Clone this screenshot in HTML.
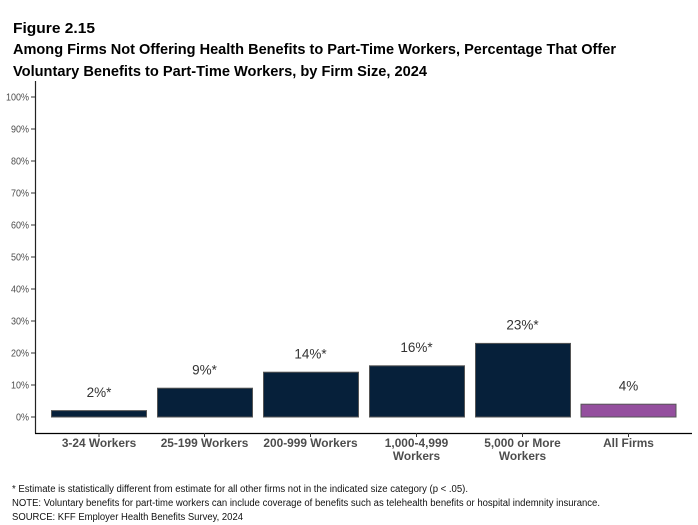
<!DOCTYPE html>
<html><head><meta charset="utf-8"><style>
html,body{margin:0;padding:0;background:#fff;}
svg{display:block;font-family:"Liberation Sans",Arial,sans-serif;}
</style></head><body>
<svg width="698" height="525" viewBox="0 0 698 525" xmlns="http://www.w3.org/2000/svg">
<rect width="698" height="525" fill="#fff"/>
<!-- Title -->
<text x="13" y="33" font-size="15" font-weight="bold" fill="#000" textLength="82" lengthAdjust="spacingAndGlyphs">Figure 2.15</text>
<text x="13" y="54" font-size="15" font-weight="bold" fill="#000" textLength="603" lengthAdjust="spacingAndGlyphs">Among Firms Not Offering Health Benefits to Part-Time Workers, Percentage That Offer</text>
<text x="13" y="76" font-size="15" font-weight="bold" fill="#000" textLength="414" lengthAdjust="spacingAndGlyphs">Voluntary Benefits to Part-Time Workers, by Firm Size, 2024</text>

<!-- Y axis -->
<g font-size="10" fill="#4d4d4d" text-anchor="end">
<text x="29" y="420.5" transform="translate(29,0) scale(0.9,1) translate(-29,0)">0%</text>
<text x="29" y="388.5" transform="translate(29,0) scale(0.9,1) translate(-29,0)">10%</text>
<text x="29" y="356.5" transform="translate(29,0) scale(0.9,1) translate(-29,0)">20%</text>
<text x="29" y="324.5" transform="translate(29,0) scale(0.9,1) translate(-29,0)">30%</text>
<text x="29" y="292.5" transform="translate(29,0) scale(0.9,1) translate(-29,0)">40%</text>
<text x="29" y="260.5" transform="translate(29,0) scale(0.9,1) translate(-29,0)">50%</text>
<text x="29" y="228.5" transform="translate(29,0) scale(0.9,1) translate(-29,0)">60%</text>
<text x="29" y="196.5" transform="translate(29,0) scale(0.9,1) translate(-29,0)">70%</text>
<text x="29" y="164.5" transform="translate(29,0) scale(0.9,1) translate(-29,0)">80%</text>
<text x="29" y="132.5" transform="translate(29,0) scale(0.9,1) translate(-29,0)">90%</text>
<text x="29" y="100.5" transform="translate(29,0) scale(0.9,1) translate(-29,0)">100%</text>
</g>
<g stroke="#333" stroke-width="1">
<line x1="31" y1="417" x2="35" y2="417"/>
<line x1="31" y1="385" x2="35" y2="385"/>
<line x1="31" y1="353" x2="35" y2="353"/>
<line x1="31" y1="321" x2="35" y2="321"/>
<line x1="31" y1="289" x2="35" y2="289"/>
<line x1="31" y1="257" x2="35" y2="257"/>
<line x1="31" y1="225" x2="35" y2="225"/>
<line x1="31" y1="193" x2="35" y2="193"/>
<line x1="31" y1="161" x2="35" y2="161"/>
<line x1="31" y1="129" x2="35" y2="129"/>
<line x1="31" y1="97" x2="35" y2="97"/>
</g>
<line x1="35.5" y1="81" x2="35.5" y2="433.5" stroke="#222" stroke-width="1.2"/>
<line x1="35" y1="433.5" x2="692" y2="433.5" stroke="#000" stroke-width="1.2"/>
<g stroke="#333" stroke-width="1">
<line x1="99" y1="433" x2="99" y2="437"/>
<line x1="204.5" y1="433" x2="204.5" y2="437"/>
<line x1="310.5" y1="433" x2="310.5" y2="437"/>
<line x1="416.5" y1="433" x2="416.5" y2="437"/>
<line x1="522.5" y1="433" x2="522.5" y2="437"/>
<line x1="628.5" y1="433" x2="628.5" y2="437"/>
</g>

<!-- Bars -->
<g stroke="#555" stroke-width="1">
<rect x="51.5" y="410.6" width="95" height="6.4" fill="#06203a"/>
<rect x="157.5" y="388.2" width="95" height="28.8" fill="#06203a"/>
<rect x="263.5" y="372.2" width="95" height="44.8" fill="#06203a"/>
<rect x="369.5" y="365.8" width="95" height="51.2" fill="#06203a"/>
<rect x="475.5" y="343.4" width="95" height="73.6" fill="#06203a"/>
<rect x="581" y="404.2" width="95" height="12.8" fill="#944f9e"/>
</g>

<!-- Value labels -->
<g font-size="13.5" fill="#333" text-anchor="middle">
<text x="99" y="397">2%*</text>
<text x="204.5" y="374.5">9%*</text>
<text x="310.5" y="358.5">14%*</text>
<text x="416.5" y="352">16%*</text>
<text x="522.5" y="329.5">23%*</text>
<text x="628.5" y="390.5">4%</text>
</g>

<!-- X labels -->
<g font-size="12" font-weight="bold" fill="#4d4d4d" text-anchor="middle">
<text transform="translate(99,447) scale(0.99,1)">3-24 Workers</text>
<text transform="translate(204.5,447) scale(0.99,1)">25-199 Workers</text>
<text transform="translate(310.5,447) scale(0.99,1)">200-999 Workers</text>
<text transform="translate(416.5,447) scale(0.99,1)">1,000-4,999</text>
<text transform="translate(416.5,460) scale(0.99,1)">Workers</text>
<text transform="translate(522.5,447) scale(0.99,1)">5,000 or More</text>
<text transform="translate(522.5,460) scale(0.99,1)">Workers</text>
<text transform="translate(628.5,447) scale(0.99,1)">All Firms</text>
</g>

<!-- Footnotes -->
<g font-size="10" fill="#111">
<text x="12" y="492" textLength="456" lengthAdjust="spacingAndGlyphs">* Estimate is statistically different from estimate for all other firms not in the indicated size category (p &lt; .05).</text>
<text x="12" y="506" textLength="588" lengthAdjust="spacingAndGlyphs">NOTE: Voluntary benefits for part-time workers can include coverage of benefits such as telehealth benefits or hospital indemnity insurance.</text>
<text x="12" y="520" textLength="231" lengthAdjust="spacingAndGlyphs">SOURCE: KFF Employer Health Benefits Survey, 2024</text>
</g>
</svg>
</body></html>
